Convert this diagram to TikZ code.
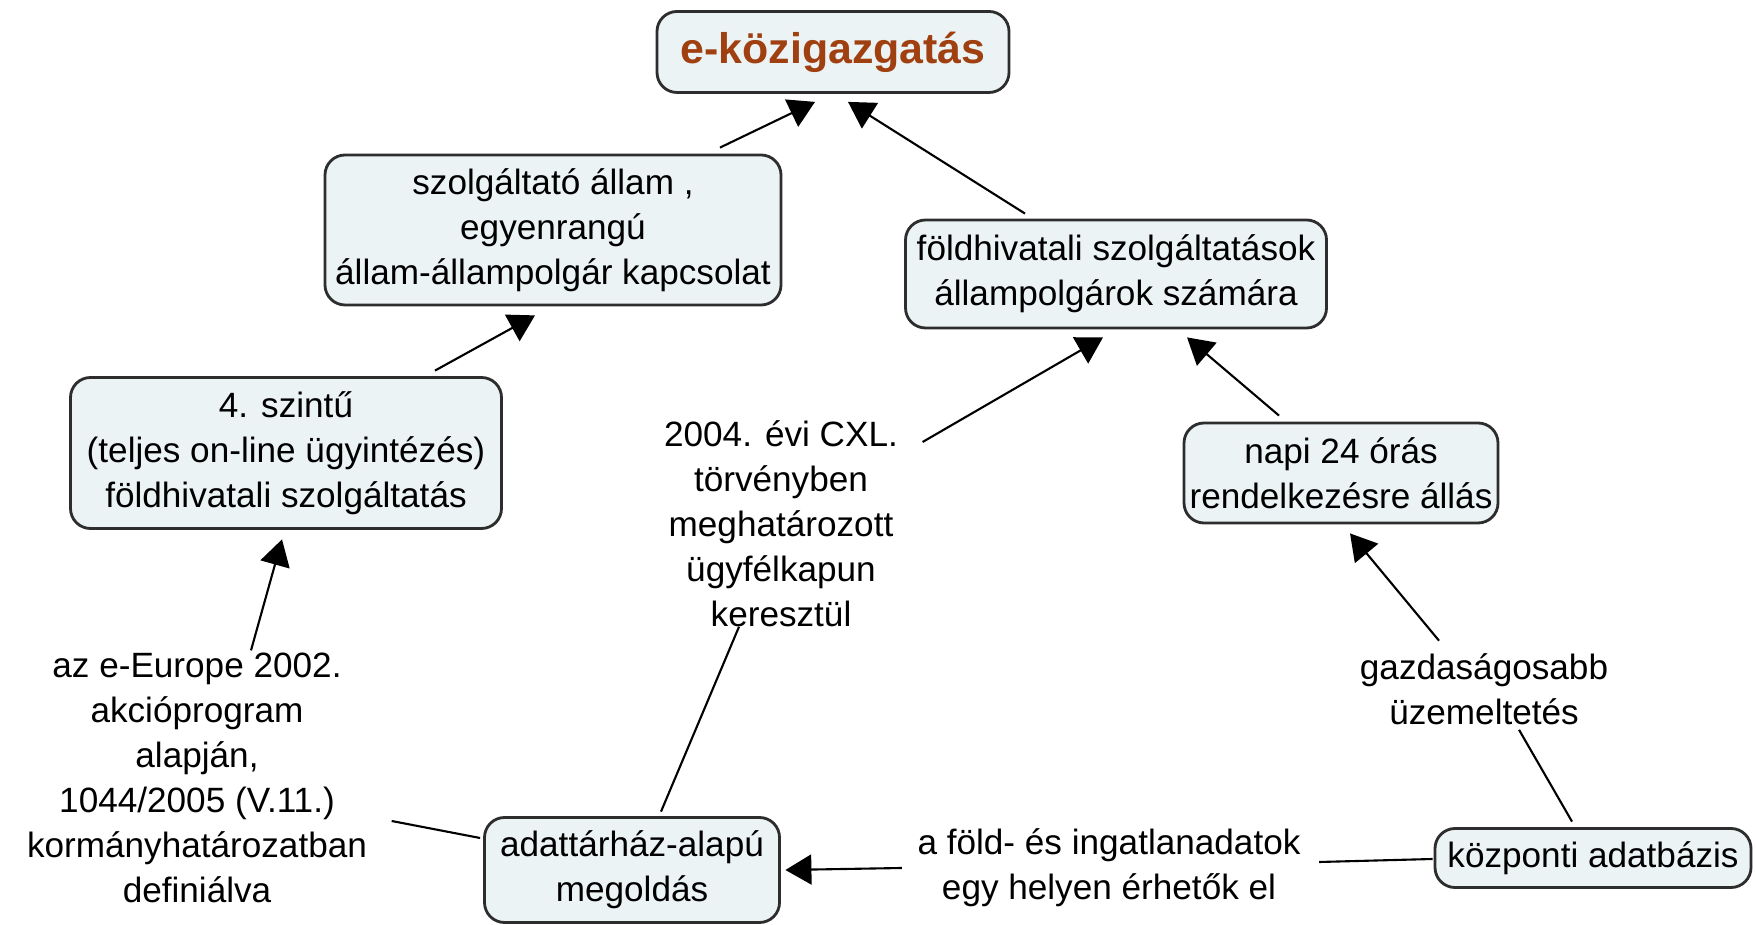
\documentclass[tikz,border=0pt]{standalone}
\usepackage{fontspec}
\setsansfont{Liberation Sans}
\usetikzlibrary{shapes}
\usetikzlibrary{arrows.meta}
\definecolor{boxfill}{RGB}{236,243,245}
\definecolor{boxline}{RGB}{45,45,45}
\definecolor{titlebrown}{RGB}{160,64,16}
\tikzset{
	conceptnode/.style = {
		align=center,
		inner sep=0pt,
		text centered,
		font=\sffamily\fontsize{10}{12.8}\selectfont
	},
	node_concept/.style = {
		conceptnode,
		rectangle,
		rounded corners=2mm,
		draw=boxline,
		fill=boxfill,
		line width=0.8pt
	},
	node_root/.style = {
		node_concept,
		text=titlebrown,
		font=\sffamily\bfseries\fontsize{12.2}{15}\selectfont
	},
	node_label/.style = {
		conceptnode
	},
	link/.style = {
		draw=black,
		line width=0.6pt
	},
	link_arrow/.style = {
		link,
		-{Triangle[length=2.6mm,width=3mm]}
	}
}

\begin{document}
\begin{tikzpicture}
\useasboundingbox (0,0) rectangle (17.56,-9.25);
\node [node_root, minimum width=3.52cm, minimum height=0.81cm] (root) at (8.33,-0.52) {e-közigazgatás};
\node [node_concept, minimum width=4.56cm, minimum height=1.50cm] (szolg) at (5.53,-2.30) {szolgáltató állam ,\\egyenrangú\\állam-állampolgár kapcsolat};
\node [node_concept, minimum width=4.21cm, minimum height=1.08cm] (fold) at (11.16,-2.74) {földhivatali szolgáltatások\\állampolgárok számára};
\node [node_concept, minimum width=4.31cm, minimum height=1.51cm] (szint) at (2.86,-4.53) {4. szintű\\(teljes on-line ügyintézés)\\földhivatali szolgáltatás};
\node [node_concept, minimum width=3.14cm, minimum height=1.00cm] (napi) at (13.41,-4.73) {napi 24 órás\\rendelkezésre állás};
\node [node_concept, minimum width=2.95cm, minimum height=1.05cm] (adat) at (6.32,-8.70) {adattárház-alapú\\megoldás};
\node [node_concept, minimum width=3.16cm, minimum height=0.59cm] (kozp) at (15.93,-8.58) {központi adatbázis};
\node [node_label] (lbl_ugyfel) at (7.81,-5.24) {2004. évi CXL.\\törvényben\\meghatározott\\ügyfélkapun\\keresztül};
\node [node_label] (lbl_europe) at (1.97,-7.78) {az e-Europe 2002.\\akcióprogram\\alapján,\\1044/2005 (V.11.)\\kormányhatározatban\\definiálva};
\node [node_label] (lbl_egyhely) at (11.09,-8.68) {a föld- és ingatlanadatok\\egy helyen érhetők el};
\node [node_label] (lbl_gazd) at (14.84,-6.89) {gazdaságosabb\\üzemeltetés};
\draw [link_arrow] ([xshift=1.67cm,yshift=0.06cm]szolg.north) -- ([xshift=-0.18cm,yshift=-0.08cm]root.south);
\draw [link_arrow] ([xshift=-0.91cm,yshift=0.05cm]fold.north) -- ([xshift=0.15cm,yshift=-0.08cm]root.south);
\draw [link_arrow] ([xshift=1.49cm,yshift=0.055cm]szint.north) -- ([xshift=-0.18cm,yshift=-0.09cm]szolg.south);
\draw [link_arrow] ([xshift=0.54cm,yshift=0.02cm]lbl_europe.north) -- ([xshift=-0.04cm,yshift=-0.095cm]szint.south);
\draw [link] ([xshift=0.24cm,yshift=-0.43cm]lbl_europe.east) -- ([xshift=-0.03cm,yshift=0.32cm]adat.west);
\draw [link] ([xshift=0.29cm,yshift=0.045cm]adat.north) -- ([xshift=-0.42cm,yshift=0.01cm]lbl_ugyfel.south);
\draw [link_arrow] ([xshift=0.24cm,yshift=0.82cm]lbl_ugyfel.east) -- ([xshift=-0.13cm,yshift=-0.08cm]fold.south);
\draw [link_arrow] ([xshift=-0.62cm,yshift=0.06cm]napi.north) -- ([xshift=0.71cm,yshift=-0.08cm]fold.south);
\draw [link_arrow] ([xshift=-0.45cm,yshift=0.12cm]lbl_gazd.north) -- ([xshift=0.09cm,yshift=-0.09cm]napi.south);
\draw [link] ([xshift=-0.21cm,yshift=0.055cm]kozp.north) -- ([xshift=0.35cm,yshift=-0.045cm]lbl_gazd.south);
\draw [link] ([xshift=-0.01cm,yshift=-0.01cm]kozp.west) -- ([xshift=0.18cm,yshift=0.06cm]lbl_egyhely.east);
\draw [link_arrow] ([xshift=-0.15cm]lbl_egyhely.west) -- ([xshift=0.045cm]adat.east);
\end{tikzpicture}
\end{document}
